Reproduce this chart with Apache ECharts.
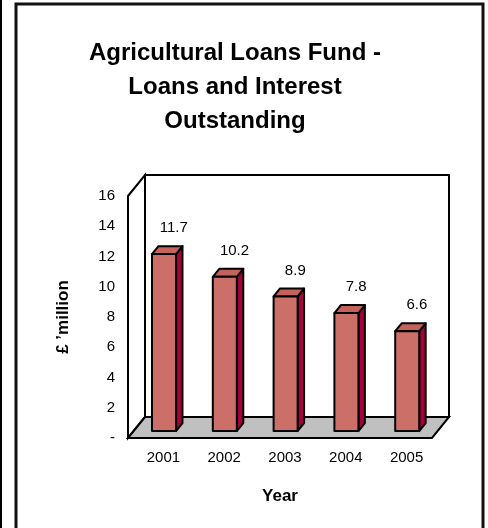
<!DOCTYPE html>
<html><head><meta charset="utf-8">
<script src="https://cdn.jsdelivr.net/npm/echarts@6/dist/echarts.min.js"></script>
<style>html,body{margin:0;padding:0;background:#fff}#c{width:488px;height:528px}</style>
</head><body><div id="c"></div>
<script>
const titleLines = ['Agricultural Loans Fund -', 'Loans and Interest', 'Outstanding'];
const years = ['2001', '2002', '2003', '2004', '2005'];
const outstanding = [11.7, 10.2, 8.9, 7.8, 6.6];
const yMin = 0, yMax = 16, yInterval = 2;
const yAxisName = '£ ’million';
const xAxisName = 'Year';

const DX = 17, DY = -21;      // 3D depth projection
const D1 = 0.33, D2 = 0.71;   // bar depth range
const BAR_FRAC = 0.395;
const FONT = '"Liberation Sans", Arial, Helvetica, sans-serif';

function renderWalls(params, api) {
  const cs = params.coordSys;
  const x0 = cs.x, x1 = cs.x + cs.width, yb = cs.y + cs.height, yt = cs.y;
  const line = { stroke: '#000', lineWidth: 2, lineJoin: 'miter' };
  return { type: 'group', children: [
    { type: 'polygon', shape: { points: [[x0 + DX, yt + DY], [x1 + DX, yt + DY], [x1 + DX, yb + DY], [x0 + DX, yb + DY]] }, style: Object.assign({ fill: '#fff' }, line) },
    { type: 'polygon', shape: { points: [[x0, yt], [x0 + DX, yt + DY], [x0 + DX, yb + DY], [x0, yb]] }, style: Object.assign({ fill: '#fff' }, line) },
    { type: 'polygon', shape: { points: [[x0, yb], [x0 + DX, yb + DY], [x1 + DX, yb + DY], [x1, yb]] }, style: Object.assign({ fill: '#c0c0c0' }, line) }
  ] };
}

function renderBar(params, api) {
  const i = api.value(0), v = api.value(1);
  const base = api.coord([i, 0]), top = api.coord([i, v]);
  const bw = api.size([1, 0])[0] * BAR_FRAC;
  const xl = base[0] - bw / 2, xr = base[0] + bw / 2;
  const yb = base[1], yt = top[1];
  const f = (x, y, d) => [x + DX * d, y + DY * d];
  const stroke = { stroke: '#000', lineWidth: 2, lineJoin: 'round' };
  return { type: 'group', children: [
    { type: 'polygon', shape: { points: [f(xr, yt, D1), f(xr, yt, D2), f(xr, yb, D2), f(xr, yb, D1)] }, style: Object.assign({ fill: '#a5003a' }, stroke) },
    { type: 'polygon', shape: { points: [f(xl, yt, D1), f(xr, yt, D1), f(xr, yt, D2), f(xl, yt, D2)] }, style: Object.assign({ fill: '#c4625c' }, stroke) },
    { type: 'polygon', shape: { points: [f(xl, yt, D1), f(xr, yt, D1), f(xr, yb, D1), f(xl, yb, D1)] }, style: Object.assign({ fill: '#cc6f68' }, stroke) },
    { type: 'text', x: base[0] + DX * 0.9, y: yt + DY - 12,
      style: { text: String(v), fill: '#000', fontSize: 15, fontFamily: FONT, align: 'center', verticalAlign: 'middle' } }
  ] };
}

const chart = echarts.init(document.getElementById('c'), null, { renderer: 'canvas' });
chart.setOption({
  animation: false,
  backgroundColor: '#fff',
  title: {
    text: titleLines.join('\n'),
    left: 235, top: 36, padding: 0, textAlign: 'center',
    textStyle: { fontFamily: FONT, fontSize: 24, fontWeight: 'bold', color: '#000', lineHeight: 34 }
  },
  grid: { left: 128, right: 56, top: 196, bottom: 90 },
  xAxis: {
    type: 'category', data: years,
    axisLine: { show: false }, axisTick: { show: false },
    axisLabel: { color: '#000', fontSize: 15, fontFamily: FONT, margin: 12, padding: [0, 0, 0, 10] },
    name: xAxisName, nameLocation: 'middle', nameGap: 50,
    nameTextStyle: { color: '#000', fontSize: 17, fontWeight: 'bold', fontFamily: FONT }
  },
  yAxis: {
    type: 'value', min: yMin, max: yMax, interval: yInterval,
    axisLine: { show: false }, axisTick: { show: false }, splitLine: { show: false },
    axisLabel: { color: '#000', fontSize: 15, fontFamily: FONT, margin: 13,
      formatter: v => (v === 0 ? '-' : String(v)) },
    name: yAxisName, nameLocation: 'middle', nameGap: 56, nameRotate: 90,
    nameTextStyle: { color: '#000', fontSize: 17, fontWeight: 'bold', fontFamily: FONT }
  },
  series: [
    { type: 'custom', name: 'walls', renderItem: renderWalls, data: [[0, 0]], z: 1, silent: true },
    { type: 'custom', name: 'Outstanding', renderItem: renderBar, z: 2,
      data: outstanding.map((v, i) => [i, v]) }
  ],
  graphic: [
    { type: 'polyline', shape: { points: [[16, 528], [16, 4], [483, 4], [483, 528]] }, style: { stroke: '#111', lineWidth: 3, fill: null } },
    { type: 'line', shape: { x1: 1, y1: 0, x2: 1, y2: 528 }, style: { stroke: '#000', lineWidth: 2 } }
  ]
});
</script>
</body></html>
